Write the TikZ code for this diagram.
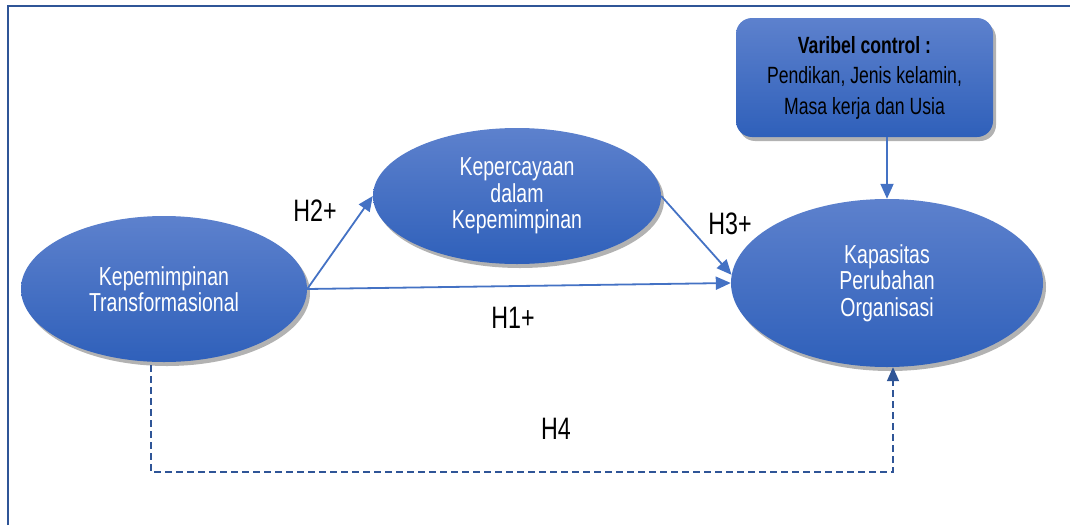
\documentclass[tikz,border=0pt]{standalone}
\usepackage{fontspec}
\setmainfont[FakeStretch=0.75]{Liberation Sans}
\usetikzlibrary{arrows.meta,shadows,calc,shapes.geometric}
\definecolor{topblue}{RGB}{93,129,205}
\definecolor{botblue}{RGB}{47,96,186}
\definecolor{linkblue}{RGB}{68,114,196}
\definecolor{darkblue}{RGB}{47,85,151}
\tikzset{
  x=1pt, y=-1pt,
  var/.style={ellipse, inner sep=0pt, top color=topblue, bottom color=botblue,
    draw=none, text=white, align=center,
    font=\fontsize{26}{26.5}\selectfont,
    drop shadow={shadow xshift=3pt, shadow yshift=-4pt, opacity=0.3, fill=black}},
  ctrlbox/.style={rectangle, rounded corners=16pt, inner sep=0pt,
    top color=topblue, bottom color=botblue, draw=none, text=black, align=center,
    font=\fontsize{23.5}{30.5}\selectfont,
    drop shadow={shadow xshift=3pt, shadow yshift=-4pt, opacity=0.3, fill=black}},
  link/.style={draw=linkblue, line width=1.8pt, -{Triangle[length=15pt,width=13pt]}},
  dlink/.style={draw=darkblue, line width=1.8pt, dash pattern=on 7pt off 4pt,
    -{Triangle[length=14pt,width=12pt]}},
  hlabel/.style={text=black, font=\fontsize{31}{32}\selectfont, inner sep=0pt},
  frame/.style={draw=darkblue, line width=2.6pt}
}
\begin{document}
\begin{tikzpicture}
\useasboundingbox (0,0) rectangle (1070,525);
\draw[frame] (8,525) -- (8,6) -- (1070,6);

\node[var, minimum width=286pt, minimum height=146pt] (lt) at (164,289)
  {Kepemimpinan\\Transformasional};
\node[var, minimum width=288pt, minimum height=136pt] (mid) at (517,196)
  {Kepercayaan\\dalam\\Kepemimpinan};
\node[var, minimum width=312pt, minimum height=168pt] (rt) at (887,283)
  {Kapasitas\\Perubahan\\Organisasi};
\node[ctrlbox, minimum width=257pt, minimum height=119pt] (box) at (864.5,77.5)
  {\textbf{Varibel control :}\\Pendikan, Jenis kelamin,\\Masa kerja dan Usia};

\draw[link] (lt.east) -- (mid.west);
\draw[link] (lt.east) -- (rt.west);
\draw[link] (mid.east) -- (rt.177);
\draw[link] (rt.north |- box.south) -- (rt.north);
\draw[dlink] ([xshift=-13pt,yshift=-3pt]lt.south) -- ++(0,107) -| ([xshift=6pt]rt.south);

\node[hlabel] (h2) at (315,211) {H2+};
\node[hlabel] (h3) at (730,224) {H3+};
\node[hlabel] (h1) at (513,318) {H1+};
\node[hlabel] (h4) at (556,429) {H4};
\end{tikzpicture}
\end{document}
